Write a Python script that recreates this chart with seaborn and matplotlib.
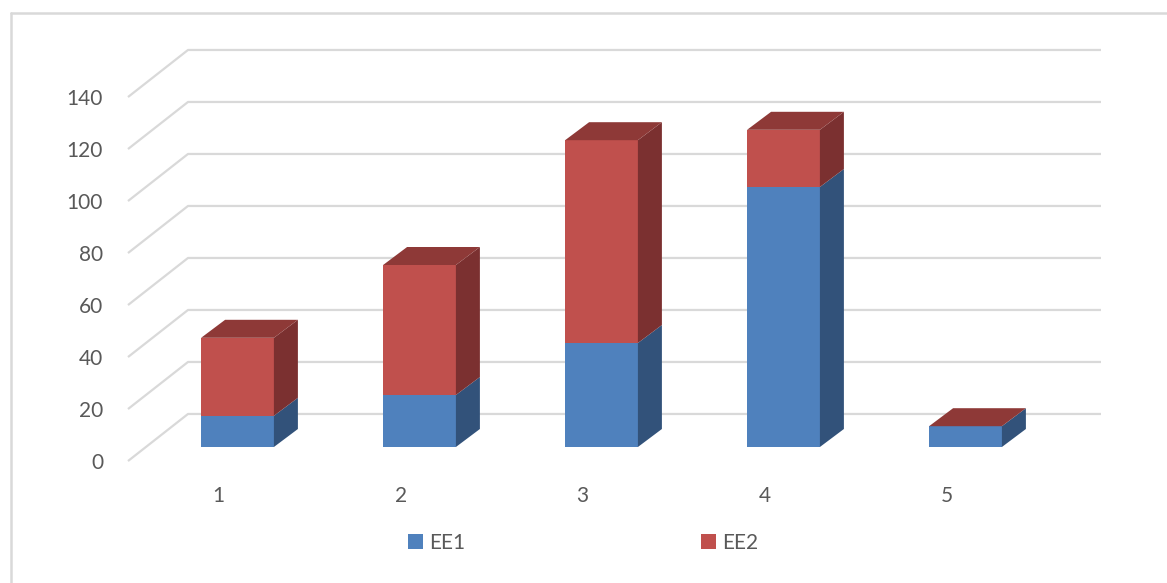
import matplotlib
matplotlib.use("Agg")
import matplotlib.pyplot as plt
from matplotlib.patches import Polygon, Patch
from matplotlib.lines import Line2D
import seaborn as sns
import pandas as pd

categories = ["1", "2", "3", "4", "5"]
ee1 = [12, 20, 40, 100, 8]
ee2 = [30, 50, 78, 22, 0]
series_names = ["EE1", "EE2"]
y_ticks = [0, 20, 40, 60, 80, 100, 120, 140]

sns.set_style("white")
plt.rcParams["font.family"] = ["Lato", "DejaVu Sans"]

BLUE, BLUE_SIDE = "#4F81BD", "#32527A"
RED, RED_SIDE, RED_TOP = "#C0504D", "#7B3030", "#8E3937"
GRID = "#D9D9D9"
TEXT = "#595959"
FS = 15

W, H = 1167, 583
fig = plt.figure(figsize=(W / 100, H / 100), dpi=100)
fig.patch.set_facecolor("white")

# plot area in pixels: x 110..1110, y 30..478 (top..bottom)
ax = fig.add_axes([110 / W, (H - 478) / H, 1000 / W, 448 / H])

df = pd.DataFrame({"cat": categories, "EE1": ee1, "EE2": ee2})
df["total"] = df["EE1"] + df["EE2"]

# oblique projection constants (data units)
px_per_cat = 182.0
px_per_val = 2.6
depth_dx = 24 / px_per_cat
depth_dy = 18 / px_per_val
# floor/back wall offsets relative to the bar front plane
front_x, front_dy = (128 - 237.5) / px_per_cat, -5.4
back_x, back_dy = (188 - 237.5) / px_per_cat, 12.7
grid_end_x = (1101 - 237.5) / px_per_cat

# gridlines: front edge -> back wall -> right
for t in y_ticks:
    ax.add_line(Line2D([front_x, back_x, grid_end_x],
                       [t + front_dy, t + back_dy, t + back_dy],
                       color=GRID, lw=1.6, zorder=0.5, solid_capstyle="butt"))

# front faces: totals (EE2 on top) then EE1 over them
sns.barplot(data=df, x="cat", y="total", color=RED, saturation=1,
            width=0.4, ax=ax, zorder=2, linewidth=0)
n_red = len(ax.patches)
sns.barplot(data=df, x="cat", y="EE1", color=BLUE, saturation=1,
            width=0.4, ax=ax, zorder=2, linewidth=0)
red_bars = ax.patches[:n_red]
blue_bars = ax.patches[n_red:]


def side_face(x1, y0, y1, color):
    pts = [(x1, y0), (x1 + depth_dx, y0 + depth_dy),
           (x1 + depth_dx, y1 + depth_dy), (x1, y1)]
    ax.add_patch(Polygon(pts, closed=True, facecolor=color,
                         edgecolor="none", zorder=2))


def top_face(x0, x1, y, color):
    pts = [(x0, y), (x1, y), (x1 + depth_dx, y + depth_dy),
           (x0 + depth_dx, y + depth_dy)]
    ax.add_patch(Polygon(pts, closed=True, facecolor=color,
                         edgecolor="none", zorder=2))


for rb, bb in zip(red_bars, blue_bars):
    x0 = bb.get_x()
    x1 = x0 + bb.get_width()
    yb = bb.get_height()
    yt = rb.get_height()
    side_face(x1, 0, yb, BLUE_SIDE)
    if yt > yb:
        side_face(x1, yb, yt, RED_SIDE)
    top_face(x0, x1, yt, RED_TOP)

# axis limits from pixel layout
ax.set_xlim((110 - 237.5) / px_per_cat, (1110 - 237.5) / px_per_cat)
ax.set_ylim((447 - 478) / px_per_val, (447 - 30) / px_per_val)

ax.set_yticks([t + front_dy for t in y_ticks])
ax.set_yticklabels([str(t) for t in y_ticks])
ax.set_xticks([i - 0.104 for i in range(len(categories))])
ax.set_xticklabels(categories)
ax.tick_params(axis="both", length=0, labelsize=FS, labelcolor=TEXT)
ax.tick_params(axis="y", pad=5)
ax.tick_params(axis="x", pad=6)
ax.set_xlabel("")
ax.set_ylabel("")
for s in ax.spines.values():
    s.set_visible(False)
ax.patch.set_alpha(0)

# chart border (left and top edges)
fig.add_artist(Line2D([11 / W, 11 / W], [0, 1 - 13 / H], transform=fig.transFigure,
                      color=GRID, lw=1.8))
fig.add_artist(Line2D([11 / W, 1], [1 - 13 / H, 1 - 13 / H], transform=fig.transFigure,
                      color=GRID, lw=1.8))

handles = [Patch(facecolor=BLUE, edgecolor="none"),
           Patch(facecolor=RED, edgecolor="none")]
fig.legend(handles, series_names, loc="center",
           bbox_to_anchor=(583 / W, 1 - 543 / H), ncol=2, frameon=False,
           fontsize=FS, labelcolor=TEXT, handlelength=0.72, handleheight=0.72,
           handletextpad=0.3, columnspacing=11.3)

fig.savefig("out.png", dpi=100, facecolor="white")
